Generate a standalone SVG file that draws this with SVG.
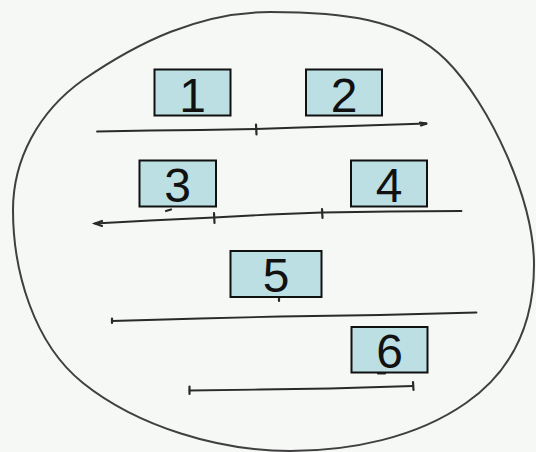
<svg xmlns="http://www.w3.org/2000/svg" width="536" height="452" viewBox="0 0 536 452">
  <style>
    .box { fill: #bbdfe3; stroke: #111; stroke-width: 2; }
    .lbl { font-family: "Liberation Sans", Arial, sans-serif; font-size: 48px; fill: #111; text-anchor: middle; }
    .ln { fill: none; stroke: #2a2a2a; stroke-width: 1.8; stroke-linecap: round; stroke-linejoin: round; }
    .tk { fill: none; stroke: #2a2a2a; stroke-width: 2.2; stroke-linecap: round; }
    .outline { fill: none; stroke: #3f3f3f; stroke-width: 2; }
  </style>
  <rect x="0" y="0" width="536" height="452" fill="#f5f8f5"/>
  <path class="outline" d="M270,12 C340,12 404,18 446,60 C490,104 534,200 534,265 C534,320 516,368 466,403 C416,438 350,451 290,451 C220,451 138,427 83,383 C33,343 13,270 13,210 C13,160 38,112 83,80 C138,42 200,12 270,12 Z"/>
  <g id="connectors">
    <polyline class="ln" points="97,131.5 150,130.5 200,130 256,129 300,127.5 350,126 426.5,123.5"/>
    <path class="tk" d="M256,124.5 L256.5,134.5 M420,122.5 L427,123.5 L421,125.5"/>
    <polyline class="ln" points="95,223.5 150,220.5 214,217.5 270,214.5 322,212.5 390,211.5 461.5,211"/>
    <path class="tk" d="M214,213 L214.5,223 M322,209 L322.5,218 M102,221 L95,223.5 L102,226 M166,211 L171,209.5"/>
    <polyline class="ln" points="112,321 200,318.5 280,316.5 380,315 476.5,312.5"/>
    <path class="tk" d="M112,318.5 L112,323 M279,297.5 L279,301"/>
    <polyline class="ln" points="189.5,390.5 260,389.5 330,388.5 413,386"/>
    <path class="tk" d="M189.5,386.5 L189.5,394 M413,382 L413.5,390 M378,373.5 L385,373.5"/>
  </g>
  <g id="node1">
    <rect class="box" x="154.5" y="69.5" width="76" height="46"/>
    <text class="lbl" x="192.5" y="111.5">1</text>
  </g>
  <g id="node2">
    <rect class="box" x="306" y="69.5" width="76" height="46"/>
    <text class="lbl" x="344" y="111.5">2</text>
  </g>
  <g id="node3">
    <rect class="box" x="139.5" y="160.5" width="76.5" height="46"/>
    <text class="lbl" x="177.5" y="202">3</text>
  </g>
  <g id="node4">
    <rect class="box" x="351" y="160.5" width="76" height="46"/>
    <text class="lbl" x="389" y="202">4</text>
  </g>
  <g id="node5">
    <rect class="box" x="230.5" y="251" width="91" height="46"/>
    <text class="lbl" x="276" y="292">5</text>
  </g>
  <g id="node6">
    <rect class="box" x="351.5" y="327" width="76" height="45.5"/>
    <text class="lbl" x="389.5" y="368">6</text>
  </g>
</svg>
